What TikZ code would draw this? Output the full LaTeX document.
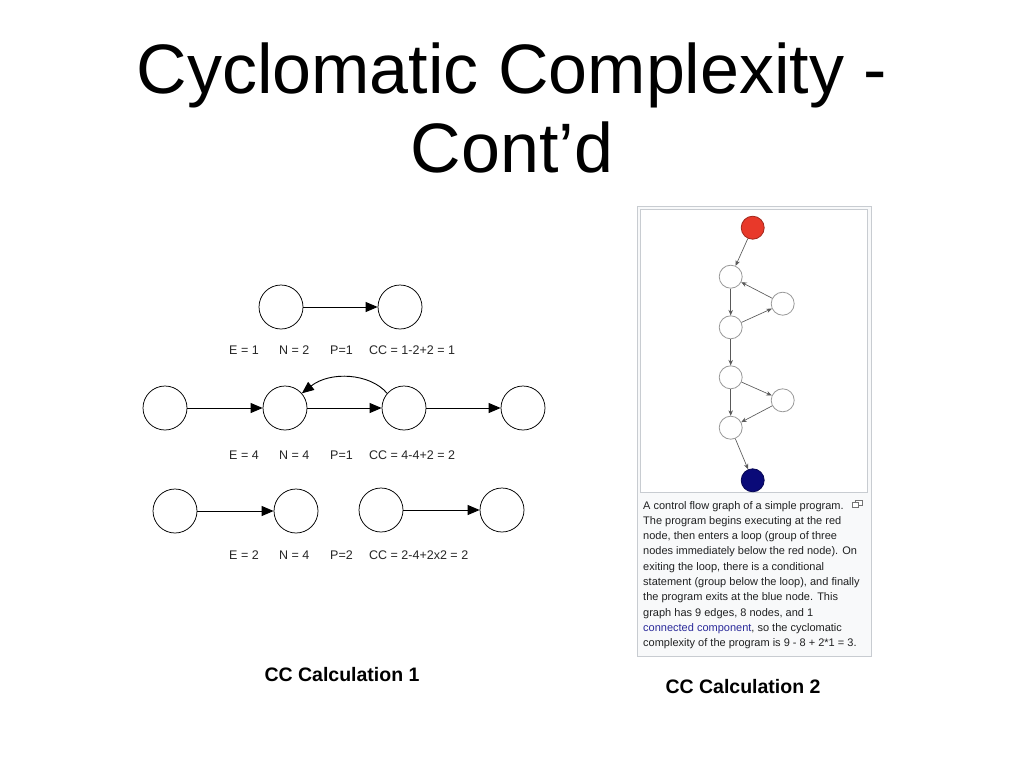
\documentclass[tikz,border=0pt]{standalone}
\usepackage{fontspec}
\setmainfont{Liberation Sans}
\usetikzlibrary{arrows.meta}
\definecolor{wpborder}{HTML}{C8CCD1}
\definecolor{wpbg}{HTML}{F8F9FA}
\definecolor{wptext}{HTML}{202122}
\definecolor{wplink}{HTML}{2A2A9A}
\definecolor{rednode}{HTML}{E8392A}
\definecolor{bluenode}{HTML}{0A0A78}
\tikzset{
  bignode/.style={circle,draw=black,line width=0.75pt,minimum size=44pt,inner sep=0pt},
  bigarr/.style={line width=0.9pt,-{Triangle[length=12pt,width=10pt]}},
  lbl/.style={anchor=base west,inner sep=0pt,text=black!85,font=\fontsize{12.5}{14}\selectfont},
  smallnode/.style={circle,draw=black!40,line width=0.8pt,minimum size=23pt,inner sep=0pt,fill=white},
  smallarr/.style={draw=black!65,line width=0.65pt,-{Stealth[length=5.5pt,width=4.5pt]}},
  capline/.style={anchor=base west,inner sep=0pt,text=wptext,font=\fontsize{11}{13}\selectfont},
  bottomcap/.style={inner sep=0pt,font=\fontsize{19.5}{22}\selectfont\bfseries},
  titletext/.style={anchor=base,inner sep=0pt,font=\fontsize{70}{80}\selectfont}
}
\begin{document}
\begin{tikzpicture}[x=1pt,y=-1pt]
\useasboundingbox[fill=white] (0,0) rectangle (1024,768);
% title
\node[titletext] (t1) at (512,93) {Cyclomatic Complexity -};
\node[titletext] (t2) at (512,172) {Cont’d};
% row 1
\node[bignode] (a1) at (281,307) {};
\node[bignode] (a2) at (400,307) {};
\draw[bigarr] (a1) -- (a2);
\node[lbl] (l1e) at (229,354) {E = 1};
\node[lbl] (l1n) at (279,354) {N = 2};
\node[lbl] (l1p) at (330,354) {P=1};
\node[lbl] (l1c) at (369,354) {CC = 1-2+2 = 1};
% row 2
\node[bignode] (b1) at (165,408) {};
\node[bignode] (b2) at (285,408) {};
\node[bignode] (b3) at (404,408) {};
\node[bignode] (b4) at (523,408) {};
\draw[bigarr] (b1) -- (b2);
\draw[bigarr] (b2) -- (b3);
\draw[bigarr] (b3) -- (b4);
\draw[bigarr] (b3.139) .. controls (370,373) and (330,371) .. (b2.41);
\node[lbl] (l2e) at (229,459) {E = 4};
\node[lbl] (l2n) at (279,459) {N = 4};
\node[lbl] (l2p) at (330,459) {P=1};
\node[lbl] (l2c) at (369,459) {CC = 4-4+2 = 2};
% row 3
\node[bignode] (c1) at (175,511) {};
\node[bignode] (c2) at (296,511) {};
\node[bignode] (c3) at (381,510) {};
\node[bignode] (c4) at (502,510) {};
\draw[bigarr] (c1) -- (c2);
\draw[bigarr] (c3) -- (c4);
\node[lbl] (l3e) at (229,559) {E = 2};
\node[lbl] (l3n) at (279,559) {N = 4};
\node[lbl] (l3p) at (330,559) {P=2};
\node[lbl] (l3c) at (369,559) {CC = 2-4+2x2 = 2};
% bottom captions
\node[bottomcap] (cap1) at (342,675) {CC Calculation 1};
\node[bottomcap] (cap2) at (743,687) {CC Calculation 2};
% right panel
\draw[draw=wpborder,fill=wpbg,line width=0.8pt] (637,206) rectangle (871,656);
\draw[draw=wpborder,fill=white,line width=0.8pt] (640.5,209.5) rectangle (867.5,492);
\node[smallnode,fill=rednode,draw=rednode!70!black] (r) at (752.7,227.7) {};
\node[smallnode] (na) at (730.7,276.7) {};
\node[smallnode] (nb) at (782.7,303.7) {};
\node[smallnode] (nc) at (730.7,327.3) {};
\node[smallnode] (nd) at (730.7,377.3) {};
\node[smallnode] (ne) at (782.7,400.3) {};
\node[smallnode] (nf) at (730.7,427.7) {};
\node[smallnode,fill=bluenode,draw=bluenode!70!black] (bl) at (752.7,480.3) {};
\draw[smallarr] (r) -- (na);
\draw[smallarr] (na) -- (nc);
\draw[smallarr] (nc) -- (nb);
\draw[smallarr] (nb) -- (na);
\draw[smallarr] (nc) -- (nd);
\draw[smallarr] (nd) -- (ne);
\draw[smallarr] (nd) -- (nf);
\draw[smallarr] (ne) -- (nf);
\draw[smallarr] (nf) -- (bl);
% magnify icon
\draw[black!55,line width=0.6pt,fill=white] (855,500) rectangle (862,505);
\draw[black!55,line width=0.6pt,fill=white] (852.5,502.5) rectangle (858,507);
% caption lines
\node[capline] (k1) at (643,509) {A control flow graph of a simple program.};
\node[capline] (k2) at (643,524.3) {The program begins executing at the red};
\node[capline] (k3) at (643,539.6) {node, then enters a loop (group of three};
\node[capline] (k4) at (643,554.9) {nodes immediately below the red node). On};
\node[capline] (k5) at (643,570.2) {exiting the loop, there is a conditional};
\node[capline] (k6) at (643,585.5) {statement (group below the loop), and finally};
\node[capline] (k7) at (643,600.8) {the program exits at the blue node. This};
\node[capline] (k8) at (643,616.1) {graph has 9 edges, 8 nodes, and 1};
\node[capline] (k9) at (643,631.4) {\textcolor{wplink}{connected component}, so the cyclomatic};
\node[capline] (k10) at (643,646.7) {complexity of the program is 9 - 8 + 2*1 = 3.};
\end{tikzpicture}
\end{document}
